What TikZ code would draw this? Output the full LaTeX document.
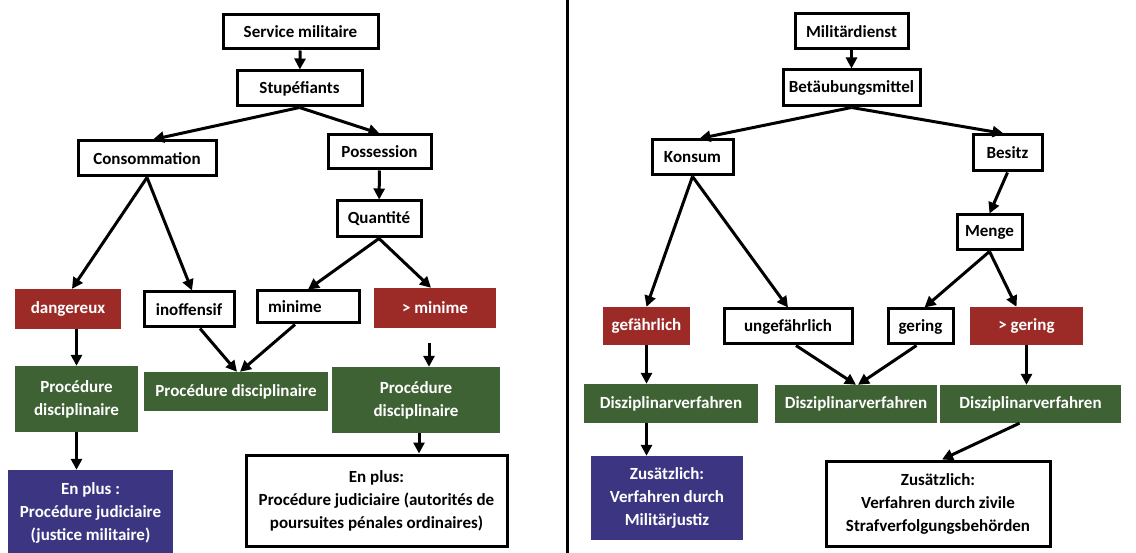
\documentclass[tikz,border=0pt]{standalone}
\usepackage{fontspec}
\setmainfont{Carlito}
\usetikzlibrary{arrows.meta}
\definecolor{dred}{HTML}{9C2B28}
\definecolor{dgreen}{HTML}{3E6233}
\definecolor{dblue}{HTML}{3C3682}
\begin{document}
\begin{tikzpicture}[x=1pt, y=-1pt,
  every node/.style={shape=rectangle, inner sep=2pt, align=center,
    font=\fontsize{17}{23}\selectfont\bfseries},
  dims/.style 2 args={minimum width=#1, minimum height=#2},
  whitebox/.style={draw, line width=3pt, fill=white},
  redbox/.style={fill=dred, text=white},
  greenbox/.style={fill=dgreen, text=white},
  bluebox/.style={fill=dblue, text=white},
  arr/.style={-{Triangle[length=11pt, width=11pt]}, line width=3pt}]
\useasboundingbox[fill=white] (0,0) rectangle (1136,553);

% left half: French
\node[whitebox, dims={155}{34}] (svc) at (300.5,32) {Service militaire};
\node[whitebox, dims={125}{35}] (stup) at (299.5,88.5) {Stupéfiants};
\node[whitebox, dims={138}{35}] (cons) at (147,158.5) {Consommation};
\node[whitebox, dims={103}{34}] (poss) at (379.5,152) {Possession};
\node[whitebox, dims={84}{36}] (quant) at (379,219) {Quantité};
\node[redbox, dims={106}{40}] (dang) at (68,309) {dangereux};
\node[whitebox, dims={90}{35}] (inoff) at (189,309.5) {inoffensif};
\node[whitebox, dims={102}{32}, text width=80pt, align=left] (mini) at (308,307) {minime};
\node[redbox, dims={122}{40}] (gmini) at (435,308) {> minime};
\node[greenbox, dims={123}{66}] (procA) at (76.5,399) {Procédure\\disciplinaire};
\node[greenbox, dims={184}{39}] (procB) at (236,391.5) {Procédure disciplinaire};
\node[greenbox, dims={168}{66}] (procC) at (416,400) {Procédure\\disciplinaire};
\node[bluebox, dims={165}{86}] (plusA) at (90.5,513) {En plus :\\Procédure judiciaire\\(justice militaire)};
\node[whitebox, dims={261}{91}] (plusB) at (376.5,500.5) {En plus:\\Procédure judiciaire (autorités de\\poursuites pénales ordinaires)};

\draw[arr] (svc) -- (stup);
\draw[arr] (stup.south) -- ([xshift=6pt]cons.north);
\draw[arr] (stup.south) -- (poss.north);
\draw[arr] (poss) -- (quant);
\draw[arr] (cons.south) -- ([xshift=4pt]dang.north);
\draw[arr] (cons.south) -- ([xshift=3pt]inoff.north);
\draw[arr] (quant.south) -- (mini.north);
\draw[arr] (quant.south) -- ([xshift=-4pt]gmini.north);
\draw[arr] (procA.north |- dang.south) -- (procA.north);
\draw[arr] ([xshift=11pt]inoff.south) -- ([xshift=1pt]procB.north);
\draw[arr] ([xshift=-13pt]mini.south) -- ([xshift=4pt]procB.north);
\draw[arr, shorten <=15pt] ([xshift=-6pt]gmini.south) -- ([xshift=-6pt]gmini.south |- procC.north);
\draw[arr] ([xshift=3pt]procC.south) -- ([xshift=3pt]procC.south |- plusB.north);
\draw[arr] (procA.south) -- (procA.south |- plusA.north);

% divider
\draw[line width=3pt] (567,0) -- (567,553);

% right half: German
\node[whitebox, dims={113}{35}] (mil) at (851.5,31.5) {Militärdienst};
\node[whitebox, dims={137}{36}] (beta) at (851.5,88) {Betäubungsmittel};
\node[whitebox, dims={81}{35}] (kons) at (692.5,157.5) {Konsum};
\node[whitebox, dims={69}{36}] (besitz) at (1007.5,153) {Besitz};
\node[whitebox, dims={65}{35}] (menge) at (989.5,232.5) {Menge};
\node[redbox, dims={87}{38}] (gef) at (646.5,326) {gefährlich};
\node[whitebox, dims={128}{35}] (ungef) at (788,326.5) {ungefährlich};
\node[whitebox, dims={65}{35}] (gering) at (920.5,326.5) {gering};
\node[redbox, dims={113}{38}] (ggering) at (1026.5,326) {> gering};
\node[greenbox, dims={174}{39}] (dvA) at (671,403.5) {Disziplinarverfahren};
\node[greenbox, dims={162}{38}] (dvB) at (856,404) {Disziplinarverfahren};
\node[greenbox, dims={181}{38}] (dvC) at (1030.5,404) {Disziplinarverfahren};
\node[bluebox, dims={152}{84}] (zusA) at (667,498) {Zusätzlich:\\Verfahren durch\\Militärjustiz};
\node[whitebox, dims={224}{85}] (zusB) at (938,503.5) {Zusätzlich:\\Verfahren durch zivile\\Strafverfolgungsbehörden};

\draw[arr] (mil) -- (beta);
\draw[arr] (beta.south) -- ([xshift=7pt]kons.north);
\draw[arr] (beta.south) -- ([xshift=-4pt]besitz.north);
\draw[arr] (besitz.south) -- (menge.north);
\draw[arr] (kons.south) -- (gef.north);
\draw[arr] (kons.south) -- (ungef.north);
\draw[arr] (menge.south) -- ([xshift=4pt]gering.north);
\draw[arr] (menge.south) -- ([xshift=-10pt]ggering.north);
\draw[arr] (gef.south) -- (gef.south |- dvA.north);
\draw[arr] ([xshift=8pt]ungef.south) -- (dvB.north);
\draw[arr] ([xshift=-4pt]gering.south) -- ([xshift=2pt]dvB.north);
\draw[arr] (ggering.south) -- (ggering.south |- dvC.north);
\draw[arr] (dvA.south -| gef) -- (zusA.north -| gef);
\draw[arr] ([xshift=-11pt]dvC.south) -- ([xshift=4pt]zusB.north);
\end{tikzpicture}
\end{document}
